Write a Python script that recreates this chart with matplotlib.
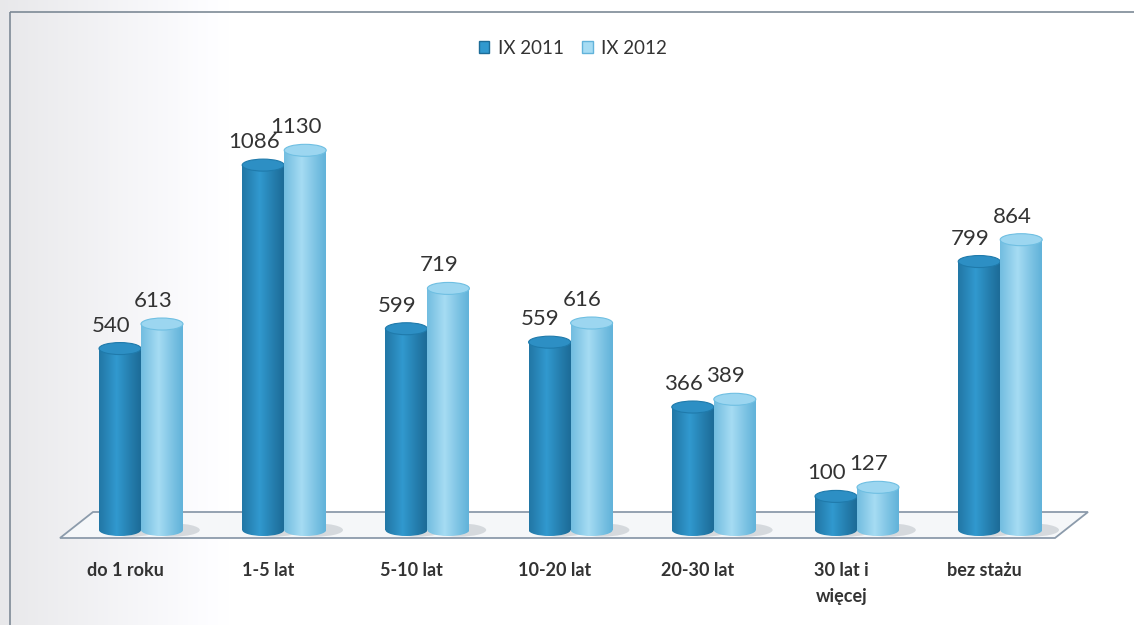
import numpy as np
import matplotlib
matplotlib.use("Agg")
import matplotlib.pyplot as plt
from matplotlib.patches import Ellipse, Rectangle, Polygon, Patch
from matplotlib.colors import to_rgb

# data
categories = ["do 1 roku", "1-5 lat", "5-10 lat", "10-20 lat", "20-30 lat", "30 lat i\nwięcej", "bez stażu"]
series_names = ["IX 2011", "IX 2012"]
v2011 = [540, 1086, 599, 559, 366, 100, 799]
v2012 = [613, 1130, 719, 616, 389, 127, 864]

plt.rcParams['font.family'] = ['Lato', 'DejaVu Sans']
TXT = "#333333"

# pixel geometry of the reference
W, H = 1134, 625
X0, DX = 141, 143.2     # px of first category, px between categories
BASE, S = 530, 0.336    # baseline px from top, px per unit

fig = plt.figure(figsize=(W / 100, H / 100), dpi=100)
fig.patch.set_facecolor("white")
ax = fig.add_axes([0, 0, 1, 1])
ax.set_xlim(-X0 / DX, (W - X0) / DX)
ax.set_ylim(-(H - BASE) / S, BASE / S)
ax.axis("off")

# scanned page look: grey fade on the left, frame line
bg = fig.add_axes([0, 0, 1, 1], zorder=-1)
bg.set_xlim(0, W); bg.set_ylim(H, 0); bg.axis("off")
g = np.linspace(0.89, 1.0, 80) ** 0.8
fade = np.dstack([g, g, np.minimum(g * 1.01, 1)]).repeat(2, axis=0)
bg.imshow(fade, extent=[0, 230, H, 0], aspect="auto", interpolation="bilinear")
bg.add_patch(Rectangle((10, 12), W, H, facecolor="none", edgecolor="#7d8a96", lw=1.2))

def px_x(p):
    return (p - X0) / DX

def px_y(p):
    return (BASE - p) / S

# floor
floor = Polygon([(px_x(93), px_y(512)), (px_x(1088), px_y(512)),
                 (px_x(1055), px_y(538)), (px_x(60), px_y(538))],
                closed=True, facecolor="#f5f7f9", edgecolor="#8c9bab", lw=1.3, zorder=1)
ax.add_patch(floor)

bw = 42 / DX           # bar width in category units
eh = 12 / S            # ellipse height in value units

def shade(edge, hi, n=80):
    t = np.linspace(0, 1, n)
    f = np.clip(1 - np.abs(t - 0.42) / 0.58, 0, 1) ** 1.1
    e, h = np.array(to_rgb(edge)), np.array(to_rgb(hi))
    return (e[None, :] + (h - e)[None, :] * f[:, None])[None, :, :]

styles = [
    dict(edge="#1d6c98", hi="#3199cf", top="#2d8fc4", line="#1f7aab"),
    dict(edge="#62b3da", hi="#a6dcf3", top="#9cd6f0", line="#6fbfe2"),
]

def cylinder(xc, h, st, z):
    x0, x1 = xc - bw / 2, xc + bw / 2
    img = shade(st["edge"], st["hi"])
    # soft shadow
    ax.add_patch(Ellipse((xc + bw * 0.25, 0), bw * 1.3, eh * 1.1, facecolor="#9aa3ab",
                         alpha=0.35, lw=0, zorder=z - 0.5))
    body = Rectangle((x0, 0), bw, h, transform=ax.transData)
    im = ax.imshow(img, extent=[x0, x1, -eh, h], aspect="auto", zorder=z, interpolation="bilinear")
    im.set_clip_path(body)
    bot = Ellipse((xc, 0), bw, eh, transform=ax.transData)
    im2 = ax.imshow(img, extent=[x0, x1, -eh, h], aspect="auto", zorder=z, interpolation="bilinear")
    im2.set_clip_path(bot)
    ax.add_patch(Ellipse((xc, h), bw, eh, facecolor=st["top"], edgecolor=st["line"],
                         lw=0.8, zorder=z + 0.1))

for i in range(len(categories)):
    for k, vals in enumerate([v2011, v2012]):
        xc = i + (k - 0.5) * bw
        cylinder(xc, vals[i], styles[k], 3 + k + i * 0.01)
        ax.text(xc - 9 / DX, vals[i] + eh / 2 + 11 / S, str(vals[i]),
                ha="center", va="baseline", fontsize=16, color=TXT, zorder=10)
    ax.text(i - 0.11, px_y(562), categories[i], ha="center", va="top",
            fontsize=13, fontweight="bold", color=TXT, linespacing=1.65, zorder=10)

handles = [Patch(facecolor=styles[0]["hi"], edgecolor=styles[0]["edge"]),
           Patch(facecolor=styles[1]["hi"], edgecolor=styles[1]["edge"])]
leg = fig.legend(handles, series_names, loc="center", bbox_to_anchor=(573 / W, 1 - 48 / H),
                 ncol=2, frameon=False, handlelength=0.55, handleheight=0.55,
                 handletextpad=0.45, columnspacing=1.0, fontsize=13.5)
for t in leg.get_texts():
    t.set_color(TXT)

fig.savefig("out.png", dpi=100)
